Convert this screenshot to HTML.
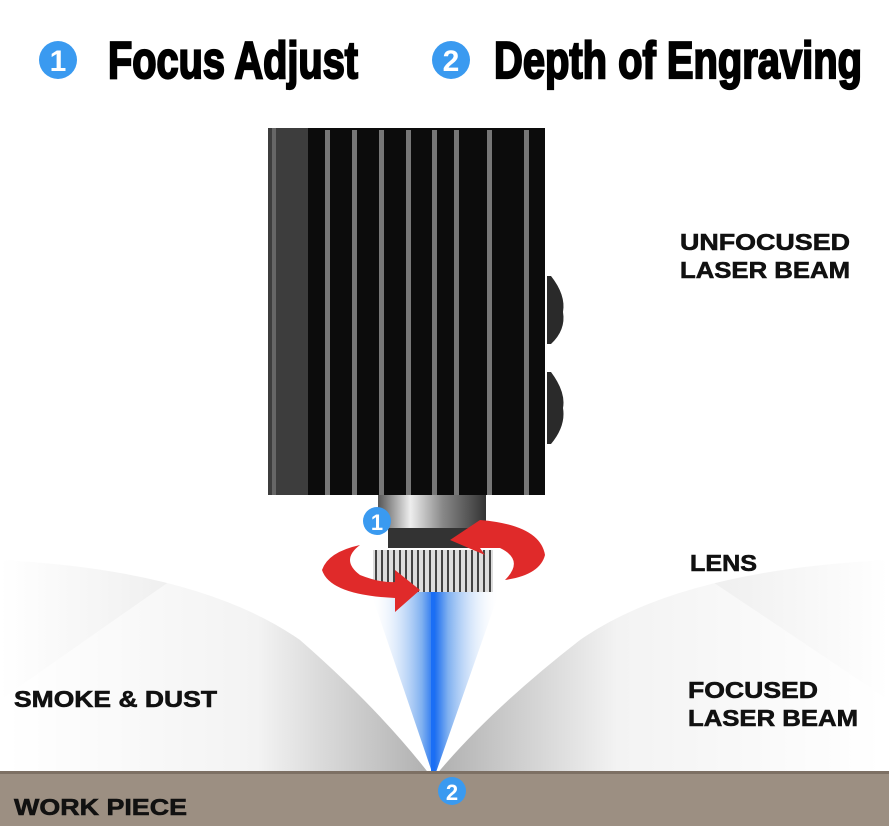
<!DOCTYPE html>
<html><head><style>
html,body{margin:0;padding:0;background:#fff;width:889px;height:836px;overflow:hidden}
svg{display:block}
.lab{font-family:"Liberation Sans",sans-serif;font-weight:bold;font-size:23px;fill:#111;stroke:#111;stroke-width:0.6}
.hd{font-family:"Liberation Sans Narrow","Liberation Sans",sans-serif;font-weight:bold;font-size:52px;fill:#000;stroke:#000;stroke-width:2.2}
.num{font-family:"Liberation Sans",sans-serif;font-weight:bold;fill:#fff}
</style></head><body>
<svg width="889" height="836" viewBox="0 0 889 836">
<defs>
<linearGradient id="smL" x1="0" y1="0" x2="1" y2="0">
<stop offset="0" stop-color="#fff"/><stop offset="0.6" stop-color="#e2e2e2"/><stop offset="1" stop-color="#444"/></linearGradient>
<linearGradient id="smR" x1="1" y1="0" x2="0" y2="0">
<stop offset="0" stop-color="#fff"/><stop offset="0.6" stop-color="#e2e2e2"/><stop offset="1" stop-color="#444"/></linearGradient>
<linearGradient id="beam" x1="0" y1="0" x2="1" y2="0">
<stop offset="0" stop-color="#fff" stop-opacity="0"/><stop offset="0.4" stop-color="#7fb0f0"/><stop offset="0.5" stop-color="#1e6ff0"/><stop offset="0.6" stop-color="#7fb0f0"/><stop offset="1" stop-color="#fff" stop-opacity="0"/></linearGradient>
<linearGradient id="chrome" x1="0" y1="0" x2="1" y2="0">
<stop offset="0" stop-color="#555"/><stop offset="0.3" stop-color="#eee"/><stop offset="0.6" stop-color="#888"/><stop offset="1" stop-color="#333"/></linearGradient>
<pattern id="knurl" width="6" height="10" patternUnits="userSpaceOnUse"><rect width="6" height="10" fill="#ddd"/><rect x="3" width="2" height="10" fill="#444"/></pattern>
</defs>
<circle cx="58" cy="60" r="19" fill="#3a9af0"/><text x="58" y="71" class="num" font-size="30" text-anchor="middle">1</text>
<text x="108" y="78" class="hd" textLength="250" lengthAdjust="spacingAndGlyphs">Focus Adjust</text>
<circle cx="451" cy="60" r="19" fill="#3a9af0"/><text x="451" y="71" class="num" font-size="30" text-anchor="middle">2</text>
<text x="494" y="78" class="hd" textLength="368" lengthAdjust="spacingAndGlyphs">Depth of Engraving</text>
<path d="M0 560 Q200 570 300 640 Q380 710 430 775 L0 775Z" fill="url(#smL)" opacity="0.85"/>
<path d="M889 560 Q680 570 580 640 Q490 710 436 775 L889 775Z" fill="url(#smR)" opacity="0.85"/>
<path d="M200 560 Q330 600 432 775 L0 775 L0 700Z" fill="#fff" opacity="0.5"/>
<path d="M680 560 Q540 600 436 775 L889 775 L889 700Z" fill="#fff" opacity="0.5"/>
<path d="M370 590 L500 590 L434 778Z" fill="url(#beam)"/>
<rect x="431" y="590" width="4" height="185" fill="#1a6ef5"/>
<rect x="0" y="771" width="889" height="55" fill="#9c8f82"/>
<rect x="0" y="771" width="889" height="3" fill="#7d7064"/>
<text x="14" y="815" class="lab" textLength="173" lengthAdjust="spacingAndGlyphs">WORK PIECE</text>
<rect x="268" y="128" width="277" height="367" fill="#0c0c0c"/>
<rect x="268" y="128" width="40" height="367" fill="#3d3d3d"/>
<rect x="272" y="128" width="4" height="367" fill="#666"/>
<g fill="#777">
<rect x="325" y="130" width="5" height="365"/><rect x="352" y="130" width="5" height="365"/>
<rect x="379" y="130" width="5" height="365"/><rect x="406" y="130" width="5" height="365"/>
<rect x="432" y="130" width="5" height="365"/><rect x="454" y="130" width="5" height="365"/>
<rect x="487" y="130" width="5" height="365"/><rect x="524" y="130" width="5" height="365"/>
</g>
<path d="M547 276 L551 276 Q566 295 563 312 Q566 330 551 344 L547 344Z" fill="#2a2a2a"/>
<path d="M547 372 L551 372 Q566 392 563 408 Q566 426 551 444 L547 444Z" fill="#2a2a2a"/>
<rect x="378" y="495" width="108" height="33" fill="url(#chrome)"/>
<rect x="388" y="528" width="88" height="20" fill="#333"/>
<rect x="373" y="550" width="120" height="42" fill="url(#knurl)"/>
<path d="M450 540 L480 520 Q540 525 545 555 Q540 575 505 580 Q525 560 500 548 L480 548 L485 555Z" fill="#e02a2a"/>
<path d="M420 590 L395 612 L395 598 Q330 595 322 570 Q328 552 360 545 Q340 560 360 575 Q380 583 395 582 L395 570Z" fill="#e02a2a"/>
<circle cx="377" cy="521" r="14" fill="#3a9af0"/><text x="377" y="530" class="num" font-size="22" text-anchor="middle">1</text>
<circle cx="452" cy="791" r="14" fill="#3a9af0"/><text x="452" y="800" class="num" font-size="22" text-anchor="middle">2</text>
<text x="680" y="250" class="lab" textLength="170" lengthAdjust="spacingAndGlyphs">UNFOCUSED</text>
<text x="680" y="278" class="lab" textLength="170" lengthAdjust="spacingAndGlyphs">LASER BEAM</text>
<text x="690" y="571" class="lab" textLength="67" lengthAdjust="spacingAndGlyphs">LENS</text>
<text x="688" y="698" class="lab" textLength="130" lengthAdjust="spacingAndGlyphs">FOCUSED</text>
<text x="688" y="726" class="lab" textLength="170" lengthAdjust="spacingAndGlyphs">LASER BEAM</text>
<text x="14" y="707" class="lab" textLength="203" lengthAdjust="spacingAndGlyphs">SMOKE &amp; DUST</text>
</svg>
</body></html>
